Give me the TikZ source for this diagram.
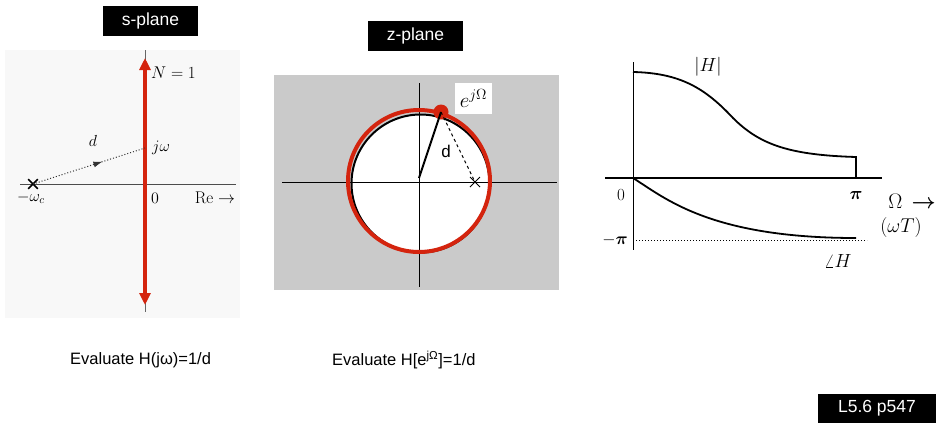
\documentclass[tikz,border=0pt]{standalone}
\usepackage{fix-cm}
\usepackage{amsmath}
\usepackage{fontspec}
\newfontfamily\arial{Liberation Sans}
\usetikzlibrary{arrows.meta,decorations.markings,shapes.misc}
\definecolor{pred}{RGB}{212,36,14}
\definecolor{zgray}{RGB}{202,202,202}
\definecolor{sbg}{RGB}{248,248,248}
\begin{document}
\begin{tikzpicture}[x=1pt,y=-1pt,
 tag/.style={fill=black,text=white,font=\arial\fontsize{17.5}{20}\selectfont,inner sep=0pt,minimum height=30pt},
 captxt/.style={font=\arial\fontsize{16.5}{18}\selectfont,inner sep=0pt},
 lbl/.style={font=\fontsize{16}{18}\selectfont,inner sep=0pt},
 axis/.style={line width=1pt},
 curve/.style={line width=1.8pt},
 pole/.style={draw,cross out,inner sep=0pt}]
\useasboundingbox (0,0) rectangle (940,424);

% ---------- s-plane ----------
\node[tag,minimum width=95pt] (stag) at (150.5,20.5) {s-plane};
\fill[sbg] (5,50) rectangle (240,318);
\coordinate (sl) at (20,184);
\coordinate (sr) at (236,184);
\coordinate (st) at (145,50);
\coordinate (sb) at (145,312);
\draw[axis,black!70] (sl) -- (sr);
\draw[axis,black!60] (st) -- (sb);
\coordinate (atop) at (145,58);
\coordinate (abot) at (145,305);
\draw[pred,line width=3.5pt,{Triangle[width=11pt,length=12pt]}-{Triangle[width=11pt,length=12pt]}] (atop) -- (abot);
\node[pole,line width=1.6pt,minimum size=8pt] (spole) at (33,184) {};
\coordinate (jw) at (145,148);
\draw[dotted,line width=1pt,black!80,postaction={decorate},
  decoration={markings,mark=at position 0.62 with {\arrow{Latex[length=9pt,width=6pt]}}}]
  (spole.center) -- (jw);
\node[lbl] (sd) at (93,141) {$d$};
\node[lbl,anchor=west] (sjw) at (152,148) {$j\omega$};
\node[lbl,anchor=west,font=\fontsize{17}{18}\selectfont] (sN) at (151,73) {$N=1$};
\node[lbl] (swc) at (31,198) {$-\omega_c$};
\node[lbl] (s0) at (155,198) {$0$};
\node[lbl,font=\fontsize{17}{18}\selectfont] (sre) at (215,198) {$\mathrm{Re}\rightarrow$};

% ---------- z-plane ----------
\node[tag,minimum width=95pt] (ztag) at (415.5,35.5) {z-plane};
\fill[zgray] (274,75) rectangle (559,290);
\draw[line width=2pt,fill=white] (420.5,183.5) circle (69);
\coordinate (zl) at (282,182);
\coordinate (zr) at (557,182);
\coordinate (zt) at (419,83);
\coordinate (zb) at (419,287);
\draw[axis] (zl) -- (zr);
\draw[axis] (zt) -- (zb);
\draw[pred,line width=4pt] (419,181) circle (71);
\coordinate (zo) at (419,178);
\node[circle,fill=pred,minimum size=15pt,inner sep=0pt] (ej) at (441,112) {};
\draw[line width=2pt] (zo) -- (ej.center);
\node[pole,line width=1pt,minimum size=9pt] (zpole) at (475,182) {};
\draw[dashed,line width=1pt] (ej.center) -- (zpole.center);
\node[captxt,font=\arial\fontsize{17}{18}\selectfont] (zd) at (446,151) {d};
\node[fill=white,minimum width=37pt,minimum height=31pt,inner sep=0pt,font=\fontsize{21}{22}\selectfont] (ejl) at (473.5,98.5) {$e^{j\Omega}$};

% ---------- frequency response ----------
\coordinate (ht) at (633,62);
\coordinate (hb) at (633,250);
\coordinate (hl) at (605,178);
\coordinate (hr) at (882,178);
\draw[axis] (ht) -- (hb);
\draw[line width=1.5pt] (hl) -- (hr);
\draw[curve] (633,72) .. controls (680,73) and (705,88) .. (733,118)
  .. controls (760,145) and (790,155) .. (856,157) -- (856,178);
\draw[curve] (633,178) .. controls (665,198) and (710,238) .. (856,238);
\coordinate (dl) at (633,240);
\coordinate (dr) at (867,240);
\draw[dotted,line width=1pt] (dl) -- (dr);
\node[lbl,font=\fontsize{19}{20}\selectfont] (habs) at (708,67) {$|H|$};
\node[lbl,font=\fontsize{17}{20}\selectfont] (h0) at (621,195) {$0$};
\node[lbl,font=\fontsize{18}{20}\selectfont] (hpi) at (856,195) {$\boldsymbol{\pi}$};
\node[lbl,anchor=east,font=\fontsize{17}{20}\selectfont] (hmpi) at (628,240) {$-\boldsymbol{\pi}$};
\node[lbl,font=\fontsize{21}{22}\selectfont] (hom) at (912,201) {$\Omega\,\boldsymbol{\rightarrow}$};
\node[lbl,font=\fontsize{20}{22}\selectfont] (hwt) at (901,227) {$(\omega T)$};
\node[lbl,font=\fontsize{19}{20}\selectfont] (hang) at (838,261) {$\angle H$};

% ---------- captions ----------
\node[captxt,anchor=west] (c1) at (70,360) {Evaluate H(jω)=1/d};
\node[captxt,anchor=west] (c2) at (332,360) {Evaluate H[e\textsuperscript{jΩ}]=1/d};
\node[tag,minimum width=118pt,minimum height=29pt] (ref) at (877,408) {L5.6 p547};
\end{tikzpicture}
\end{document}
